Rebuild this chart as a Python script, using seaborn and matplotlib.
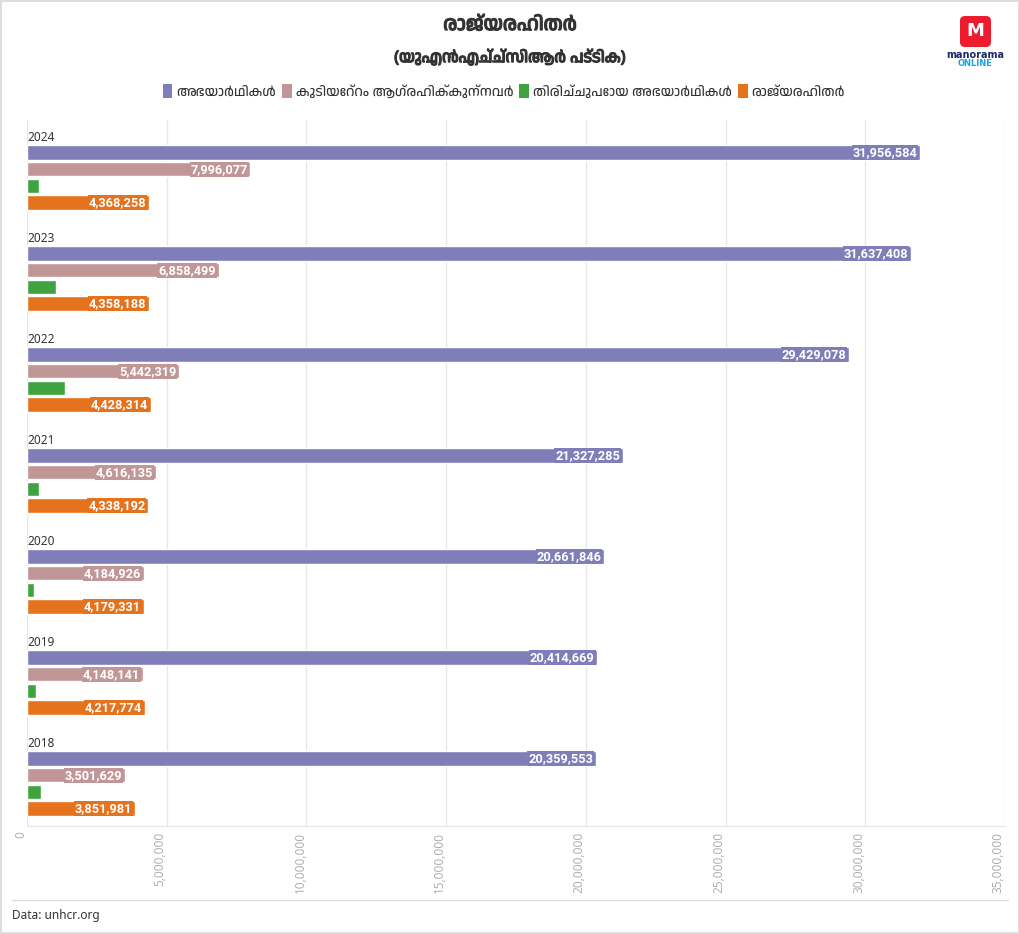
import matplotlib
matplotlib.use("Agg")
import numpy as np
import pandas as pd
import seaborn as sns
import matplotlib.pyplot as plt
import matplotlib.patheffects as pe
from matplotlib import font_manager
from matplotlib.ft2font import FT2Font
from matplotlib.patches import Patch, FancyBboxPatch
from matplotlib.lines import Line2D
from matplotlib.ticker import FuncFormatter

# data (UNHCR figures)
years = ["2024", "2023", "2022", "2021", "2020", "2019", "2018"]
series_names = ["അഭയാർഥികൾ", "കുടിയേറ്റം ആഗ്രഹിക്കുന്നവർ", "തിരിച്ചുപോയ അഭയാർഥികൾ", "രാജ്യരഹിതർ"]
refugees = [31956584, 31637408, 29429078, 21327285, 20661846, 20414669, 20359553]
resettlement = [7996077, 6858499, 5442319, 4616135, 4184926, 4148141, 3501629]
returned = [430000, 1050000, 1350000, 430000, 250000, 310000, 510000]
stateless = [4368258, 4358188, 4428314, 4338192, 4179331, 4217774, 3851981]
colors = ["#807eb9", "#c09696", "#3fa33f", "#e5731e"]
x_ticks = [0, 5000000, 10000000, 15000000, 20000000, 25000000, 30000000, 35000000]

title = "രാജ്യരഹിതർ"
subtitle = "(യുഎൻഎച്ച്സിആർ പട്ടിക)"
source = "Data: unhcr.org"

df = pd.DataFrame({
    "year": years * 4,
    "series": [s for s in series_names for _ in years],
    "value": refugees + resettlement + returned + stateless,
})


def malayalam_font():
    found = []
    for f in font_manager.fontManager.ttflist:
        try:
            if 0x0D30 in FT2Font(f.fname).get_charmap():
                found.append(f.name)
        except Exception:
            continue
    if not found:
        return None
    found.sort(key=lambda n: ("Malayalam" not in n, "Mono" in n, n))
    return found[0]


def first_installed(names):
    have = {f.name for f in font_manager.fontManager.ttflist}
    return [n for n in names if n in have] or ["DejaVu Sans"]


sns.set_style("white")
ml_font = malayalam_font()
families = ["Noto Sans"] + ([ml_font] if ml_font else []) + ["DejaVu Sans"]
plt.rcParams["font.family"] = families

fig = plt.figure(figsize=(10.2, 9.34), dpi=100)
ax = fig.add_axes([27 / 1020, 1 - 826 / 934, 978 / 1020, 706 / 934])

sns.barplot(data=df, y="year", x="value", hue="series", orient="h",
            palette=colors, width=0.66, saturation=1, legend=False, ax=ax)

# thin the bars a little so there's a gap between them
for bar in ax.patches:
    c = bar.get_y() + bar.get_height() / 2
    bar.set_height(0.142)
    bar.set_y(c - 0.071)

label_font = first_installed(["Liberation Sans Narrow", "DejaVu Sans Condensed", "Roboto", "Liberation Sans"])[:1]
for k, (container, vals) in enumerate(zip(ax.containers, [refugees, resettlement, returned, stateless])):
    if k == 2:
        continue
    for bar, v in zip(container, vals):
        ax.annotate(f"{v:,}", (bar.get_width(), bar.get_y() + bar.get_height() / 2),
                    xytext=(-2, 0), textcoords="offset points", ha="right", va="center",
                    color="white", fontsize=9.2, fontweight="bold", family=label_font,
                    bbox=dict(facecolor=colors[k], edgecolor="none", pad=0.6))

for i, y in enumerate(years):
    ax.text(0, i - 0.40, y, ha="left", va="center", fontsize=8.5, color="#333333")

ax.set_xlim(0, 35000000)
ax.set_ylim(len(years) - 1 + 0.42, -0.57)
ax.set_xticks(x_ticks)
ax.xaxis.set_major_formatter(FuncFormatter(lambda v, p: f"{v:,.0f}"))
for lab in ax.get_xticklabels():
    lab.set_rotation(90)
    lab.set_ha("right")
    lab.set_va("top")
ax.tick_params(axis="x", labelsize=8.5, labelcolor="#b0b0b0", length=0, pad=4)
ax.set_yticks([])
ax.set_xlabel("")
ax.set_ylabel("")
ax.grid(axis="x", color="#e6e6e6", linewidth=0.9)
ax.set_axisbelow(True)
for s in ["top", "right", "left"]:
    ax.spines[s].set_visible(False)
ax.spines["bottom"].set_color("#e6e6e6")

# titles (stroke gives the Malayalam face a bold look)
bold = [pe.withStroke(linewidth=0.9, foreground="#333333")]
fig.text(0.5, 1 - 25 / 934, title, ha="center", va="center", fontsize=14,
         fontweight="bold", color="#333333", path_effects=bold)
fig.text(0.5, 1 - 58 / 934, subtitle, ha="center", va="center", fontsize=11.5,
         fontweight="bold", color="#333333", path_effects=bold)

handles = [Patch(facecolor=c, edgecolor="none") for c in colors]
fig.legend(handles, series_names, loc="center", bbox_to_anchor=(0.494, 1 - 92 / 934),
           ncol=4, frameon=False, fontsize=9.8, handlelength=0.7, handleheight=1.2,
           handletextpad=0.3, columnspacing=0.45, labelcolor="#333333")

# footer
fig.add_artist(Line2D([12 / 1020, 1008 / 1020], [1 - 900 / 934, 1 - 900 / 934],
                      color="#dddddd", linewidth=1))
fig.text(12 / 1020, 1 - 915 / 934, source, ha="left", va="center", fontsize=8.5,
         color="#333333")

# frame round the whole picture
fig.add_artist(plt.Rectangle((0.001, 0.001), 0.998, 0.998, transform=fig.transFigure,
                             fill=False, edgecolor="#dddddd", linewidth=1.5))

# logo
fig.add_artist(FancyBboxPatch((960 / 1020, 1 - 47 / 934), 31 / 1020, 31 / 934,
                              boxstyle="round,pad=0,rounding_size=0.005",
                              transform=fig.transFigure, facecolor="#ec1c2e",
                              edgecolor="none"))
fig.text(975.5 / 1020, 1 - 31 / 934, "M", ha="center", va="center", fontsize=13,
         fontweight="bold", color="white", family=["DejaVu Sans"])
fig.text(975.5 / 1020, 1 - 55 / 934, "manorama", ha="center", va="center", fontsize=7,
         fontweight="bold", color="#1b2a6b", family=["DejaVu Sans"])
fig.text(975.5 / 1020, 1 - 63 / 934, "ONLINE", ha="center", va="center", fontsize=6,
         fontweight="bold", color="#19a4dc", family=["DejaVu Sans"])

fig.savefig("out.png", dpi=100, facecolor="white")
